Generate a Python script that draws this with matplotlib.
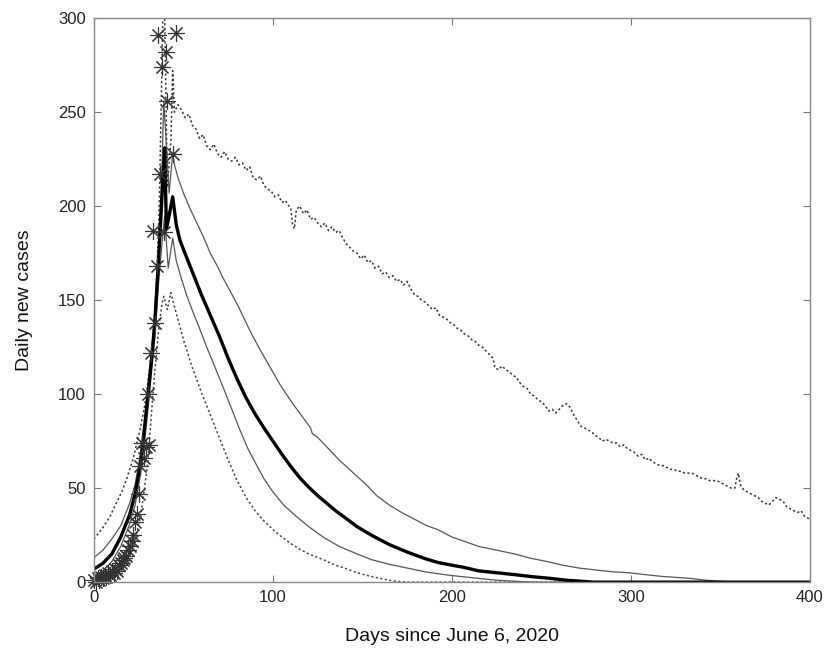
import matplotlib
matplotlib.use('Agg')
import matplotlib.pyplot as plt

# observed daily cases (asterisks)
obs_days = [0, 1, 2, 3, 4, 5, 6, 7, 8, 9, 10, 11, 12, 13, 14, 15, 16, 17, 18, 19, 20,
            21, 22, 23, 24, 25, 26, 27, 28, 29, 30, 31, 32, 33, 34, 35, 36, 37, 38, 39,
            40, 41, 44, 46]
obs_vals = [1, 0, 2, 1, 3, 2, 4, 3, 5, 4, 6, 5, 7, 6, 9, 10, 12, 13, 14, 17, 19,
            22, 25, 32, 36, 47, 62, 74, 66, 72, 100, 73, 122, 187, 138, 168, 291, 217, 274, 186,
            282, 256, 228, 292]

# median of model (thick line)
med_days = [0, 5, 10, 15, 20, 23, 26, 28, 30, 32, 34, 36, 38, 39.5, 40.5, 42, 44, 46, 48, 50,
            55, 60, 65, 70, 75, 80, 85, 90, 95, 100, 105, 110, 115, 120, 125, 130, 135, 140,
            147, 155, 165, 175, 185, 192, 200, 206, 215, 225, 235, 244, 255, 264, 272, 279, 400]
med_vals = [7, 10, 15, 24, 36, 47, 63, 80, 98, 117, 138, 170, 205, 231, 188, 195, 205, 190, 182, 177,
            165, 153, 142, 131, 119, 108, 98, 89.5, 82, 75, 68, 61.5, 55.5, 50.5, 46, 42, 38, 34.5,
            29.5, 25, 20, 16, 12.5, 10.5, 9, 8, 6, 5, 4, 3, 2, 1, 0.5, 0, 0]

# inner band (thin solid)
hi1_days = [0, 5, 10, 15, 20, 23, 26, 28, 30, 32, 34, 36, 38, 39, 40, 42, 44, 45, 47, 50,
            54, 58, 61, 65, 69, 72, 76, 81, 87, 92, 98, 104, 111, 118, 121, 122, 125, 131, 137,
            145, 152, 158, 165, 172, 180, 186, 192, 200, 206, 215, 225, 235, 244, 253, 262,
            271, 281, 290, 299, 308, 318, 326, 333, 342, 350, 358, 400]
hi1_vals = [13, 17, 23, 30, 42, 52, 68, 82, 100, 120, 142, 175, 220, 256, 240, 207, 228, 222, 215, 207,
            198, 190, 184, 175, 168, 162, 155, 146, 134, 125, 115, 105, 95, 86, 82, 79, 77, 71, 65,
            58, 52, 46, 41, 37, 33, 30, 28, 24, 22, 19, 17, 15, 12.7, 11, 9,
            7.5, 6.4, 5.5, 5, 4, 3, 2.5, 2, 1, 0.5, 0, 0]

lo1_days = [0, 5, 10, 15, 20, 23, 26, 28, 30, 32, 34, 36, 38, 39.5, 41.5, 44, 46, 49, 52, 56,
            59, 63, 66.5, 72, 77, 81.5, 86, 91, 95, 100, 106, 113, 120, 128, 137, 147, 155,
            165, 175, 185, 192, 200, 210, 220, 225, 235, 245, 400]
lo1_vals = [3, 6, 11, 19, 31, 41, 57, 72, 90, 110, 130, 158, 180, 195, 167, 183, 171, 161, 152, 142,
            135, 125, 117, 104, 92, 81, 71, 62, 55, 48, 41, 35, 29.5, 24, 19, 15, 12,
            9.5, 7.5, 5.5, 4.5, 3.5, 2.5, 1.5, 1, 0.5, 0, 0]

# outer band (dotted)
hi2_days = [0, 5, 9, 13, 16, 19, 22, 25.7, 28, 29.6, 31, 33, 35, 36.5, 37.5, 38.5, 39.5, 41, 43, 44,
            45, 47, 49, 51, 53, 55, 57, 59, 61, 63, 65, 67, 69, 71, 73, 75, 77, 79, 81, 83,
            85, 87, 89, 91, 93, 95, 97, 99, 101, 103, 105, 107, 109, 110, 111, 112, 113, 115,
            117, 119, 121, 123, 125, 127, 129, 131, 133, 135, 137, 139, 141, 143, 145, 147,
            149, 151, 153, 155, 157, 159, 161, 163, 165, 167, 169, 171, 173, 175, 177, 179,
            181, 183, 185, 187, 189, 191, 193, 195, 197, 199, 201, 203, 205, 207, 209, 211,
            213, 215, 217, 219, 221, 223, 224, 226, 228, 230, 232, 234, 236, 238, 240, 242,
            244, 246, 248, 250, 252, 254, 256, 258, 260, 262, 264, 266, 268, 270, 272, 274,
            276, 278, 280, 282, 284, 286, 288, 290, 292, 294, 296, 298, 300, 302, 304, 306,
            308, 310, 312, 314, 316, 318, 320, 322, 324, 326, 328, 330, 332, 334, 336, 338,
            340, 342, 344, 346, 348, 350, 352, 354, 356, 358, 359, 360, 361, 363, 365, 367,
            369, 371, 373, 375, 377, 379, 381, 383, 385, 387, 389, 391, 393, 395, 397, 399, 400]
hi2_vals = [23, 29, 35, 43, 49, 57, 66, 81, 92, 102, 113, 129, 160, 200, 250, 300, 302, 210, 235, 272,
            250, 254, 251, 247, 249, 243, 241, 236, 238, 232, 230, 233, 228, 226, 229, 225, 224, 226, 222, 223,
            219, 221, 215, 214, 216, 211, 209, 208, 205, 206, 202, 203, 200, 199, 190, 188, 198, 200,
            196, 198, 193, 194, 191, 189, 191, 187, 189, 186, 187, 183, 180, 178, 176, 175,
            172, 174, 170, 171, 167, 168, 164, 165, 162, 163, 160, 161, 158, 160, 156, 153,
            152, 150, 149, 147, 145, 146, 142, 141, 140, 138, 137, 135, 134, 132, 131, 129,
            128, 126, 125, 123, 121, 119, 114, 113, 115, 113, 112, 110, 109, 106, 104, 103,
            100, 99, 97, 96, 94, 91, 92, 90, 92, 94, 95, 93, 89, 86, 83, 82,
            81, 80, 78, 77, 75, 76, 75, 74, 74, 72, 73, 71, 70, 69, 67, 68,
            65, 66, 64, 63, 62, 62, 61, 60, 60, 59, 59, 58, 58, 58, 57, 56,
            55, 55, 54, 54, 54, 53, 52, 51, 50, 50, 55, 58, 52, 49, 48, 47,
            46, 45, 43, 42, 41, 43, 45, 44, 43, 40, 39, 38, 37, 38, 35, 34, 33]

lo2_days = [0, 5, 10, 15, 20, 23, 26, 28, 30, 32, 34, 36, 38, 39, 41, 43, 44, 46, 50, 55,
            60, 65, 70, 75, 80, 85, 90, 95, 100, 105, 110, 115, 120, 128,
            135, 140, 147, 155, 160, 165, 170, 175, 400]
lo2_vals = [0, 1, 3, 7, 14, 22, 35, 48, 63, 88, 112, 133, 148, 152, 145, 154, 150, 143, 129, 114,
            101, 89, 77, 65, 54, 45, 38, 32.5, 28, 24, 20.5, 17.5, 15, 12,
            9, 7.5, 5, 3, 2, 1, 0.3, 0, 0]

plt.rcParams['font.family'] = ['Liberation Sans', 'DejaVu Sans']

fig = plt.figure(figsize=(8.24, 6.49), dpi=100)
ax = fig.add_axes([0.114, 0.103, 0.869, 0.869])

ax.plot(hi2_days, hi2_vals, color='#333333', linestyle=(0, (1.4, 1.6)), linewidth=1.1)
ax.plot(lo2_days, lo2_vals, color='#444444', linestyle=(0, (1.4, 1.6)), linewidth=1.1)
ax.plot(hi1_days, hi1_vals, color='#555555', linewidth=0.9)
ax.plot(lo1_days, lo1_vals, color='#555555', linewidth=0.9)
ax.plot(med_days, med_vals, color='black', linewidth=2.4)
ax.plot(obs_days, obs_vals, linestyle='none', marker=(8, 2, 0), markersize=12,
        markeredgewidth=0.8, color='#333333', clip_on=False)

ax.set_xlim(0, 400)
ax.set_ylim(0, 300)
ax.set_xticks([0, 100, 200, 300, 400])
ax.set_yticks([0, 50, 100, 150, 200, 250, 300])
ax.tick_params(direction='in', top=True, right=True, length=5, width=0.8,
               color='#777777', labelsize=12, labelcolor='#222222', pad=6)
for s in ax.spines.values():
    s.set_color('#888888')
    s.set_linewidth(1)

ax.set_xlabel('Days since June 6, 2020', fontsize=14, color='#111111', labelpad=16)
ax.set_ylabel('Daily new cases', fontsize=14, color='#111111', labelpad=18)

fig.savefig('out.png', dpi=100)
